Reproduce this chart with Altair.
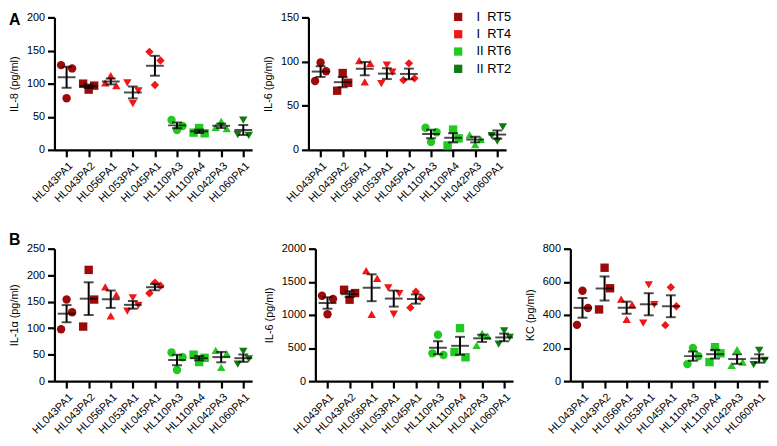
import altair as alt
import pandas as pd

FONT = "Liberation Sans"

categories = ["HL043PA1", "HL043PA2", "HL056PA1", "HL053PA1", "HL045PA1",
              "HL110PA3", "HL110PA4", "HL042PA3", "HL060PA1"]
cat_groups = ["I\u00a0\u00a0RT5", "I\u00a0\u00a0RT5", "I\u00a0\u00a0RT4", "I\u00a0\u00a0RT4", "I\u00a0\u00a0RT4",
              "II RT6", "II RT6", "II RT6", "II RT2"]
group_order = ["I\u00a0\u00a0RT5", "I\u00a0\u00a0RT4", "II RT6", "II RT2"]
group_colors = ["#9c0a0a", "#f21616", "#22c922", "#0f7b0f"]
cat_shapes = ["circle", "square", "triangle-up", "triangle-down", "diamond",
              "circle", "square", "triangle-up", "triangle-down"]

# three replicates per strain, listed left / centre / right
il8_a = [[128, 78, 123], [100, 91, 97], [101, 112, 97], [101, 70, 89], [148, 98, 135],
         [45, 30, 36], [26, 33, 25], [34, 43, 32], [23, 45, 22]]
il6_a = [[78, 99, 89], [67, 87, 76], [101, 77, 98], [75, 96, 88], [79, 98, 81],
         [25, 9, 20], [5, 23, 13], [17, 6, 12], [16, 10, 26]]
il1a_b = [[98, 154, 130], [103, 210, 154], [178, 123, 163], [132, 157, 143], [166, 186, 180],
          [54, 21, 45], [50, 36, 44], [58, 26, 52], [32, 56, 42]]
il6_b = [[1290, 1010, 1240], [1380, 1230, 1330], [1670, 1010, 1550], [1410, 1010, 1320],
         [1110, 1350, 1260], [420, 700, 395], [440, 800, 360], [540, 720, 680], [560, 760, 660]]
kc_b = [[340, 546, 442], [433, 685, 561], [496, 373, 462], [350, 581, 462], [338, 567, 452],
        [103, 200, 150], [115, 205, 168], [95, 190, 115], [100, 185, 125]]

W, H = 200, 134

label_expr = "[" + ",".join("'%s'" % c for c in categories) + "][datum.value]"
xaxis = alt.Axis(values=list(range(len(categories))), labelExpr=label_expr, labelAngle=315,
                 labelFontSize=11, labelOverlap=False, title=None, grid=False)
xscale = alt.Scale(domain=[-0.55, 8.4], nice=False, zero=False)


def panel(values, ytitle, ymax, ystep, letter=None, legend=False, letter_y=0):
    rows = []
    for i, cat in enumerate(categories):
        for r in range(3):
            rows.append({"cat": cat, "idx": i, "rep": r, "group": cat_groups[i],
                         "value": values[i][r]})
    df = pd.DataFrame(rows)
    yscale = alt.Scale(domain=[0, ymax], nice=False)
    yaxis = alt.Axis(values=list(range(0, ymax + 1, ystep)), format="d", grid=False)
    base = alt.Chart(df)

    if legend:
        leg = alt.Legend(title=None, orient="none", legendX=145, legendY=-7, symbolType="square",
                         symbolSize=70, labelFontSize=13, labelFont=FONT, labelColor="black",
                         rowPadding=3.5, labelOffset=12, padding=0, symbolStrokeWidth=0,
                         symbolOpacity=1)
    else:
        leg = None

    pts = base.transform_calculate(xpos="datum.idx + (datum.rep - 1) * 0.25").mark_point(
        filled=True, size=72, opacity=1, strokeWidth=0).encode(
        x=alt.X("xpos:Q", scale=xscale, axis=xaxis, title=None),
        y=alt.Y("value:Q", scale=yscale, axis=yaxis, title=ytitle),
        color=alt.Color("group:N", scale=alt.Scale(domain=group_order, range=group_colors),
                        sort=group_order, legend=leg),
        shape=alt.Shape("cat:N", scale=alt.Scale(domain=categories, range=cat_shapes), legend=None),
    )

    stats = base.transform_aggregate(
        mean="mean(value)", sd="stdev(value)", n="count()", groupby=["idx"]
    ).transform_calculate(
        lo="datum.mean - datum.sd / sqrt(datum.n)",
        hi="datum.mean + datum.sd / sqrt(datum.n)",
    )
    xi = alt.X("idx:Q", scale=xscale, axis=xaxis, title=None)
    rule = stats.mark_rule(color="black", strokeWidth=2).encode(
        x=xi, y=alt.Y("lo:Q", scale=yscale, axis=yaxis, title=ytitle), y2="hi:Q")
    cap_lo = stats.mark_tick(color="black", orient="horizontal", size=10, thickness=2).encode(
        x=xi, y=alt.Y("lo:Q", scale=yscale, axis=yaxis, title=ytitle))
    cap_hi = stats.mark_tick(color="black", orient="horizontal", size=10, thickness=2).encode(
        x=xi, y=alt.Y("hi:Q", scale=yscale, axis=yaxis, title=ytitle))
    mean = stats.mark_tick(color="black", orient="horizontal", size=18, thickness=2).encode(
        x=xi, y=alt.Y("mean:Q", scale=yscale, axis=yaxis, title=ytitle))

    layers = [pts, rule, cap_lo, cap_hi, mean]
    if letter:
        txt = alt.Chart(pd.DataFrame({"t": [letter]})).mark_text(
            font="Liberation Sans", fontSize=16, fontWeight="bold", align="left",
            baseline="middle", color="black").encode(
            x=alt.value(-46), y=alt.value(letter_y), text="t:N")
        layers.append(txt)
    return alt.layer(*layers).properties(width=W, height=H)


p1 = panel(il8_a, "IL-8 (pg/ml)", 200, 50, letter="A", letter_y=3)
p2 = panel(il6_a, "IL-6 (pg/ml)", 150, 50, legend=True)
p3 = panel(il1a_b, "IL-1\u03b1 (pg/ml)", 250, 50, letter="B", letter_y=-9)
p4 = panel(il6_b, "IL-6 (pg/ml)", 2000, 500)
p5 = panel(kc_b, "KC (pg/ml)", 800, 200)

row1 = alt.hconcat(p1, p2, spacing=9).resolve_scale(color="independent")
row2 = alt.hconcat(p3, p4, p5, spacing=10).resolve_scale(color="independent")

chart = alt.vconcat(row1, row2, spacing=28).resolve_scale(color="independent").properties(
    padding={"left": 0, "top": 0, "right": 0, "bottom": 0}
).configure_view(stroke=None).configure_axis(
    domainColor="black", domainWidth=2.2, tickColor="black", tickWidth=2.2, tickSize=7,
    labelFont=FONT, labelFontSize=11, labelColor="black", labelPadding=3,
    titleFont=FONT, titleFontSize=11, titleFontWeight="normal", titleColor="black",
    titlePadding=7, grid=False,
)

chart.save("out.html", embed_options={"renderer": "svg", "actions": False})
